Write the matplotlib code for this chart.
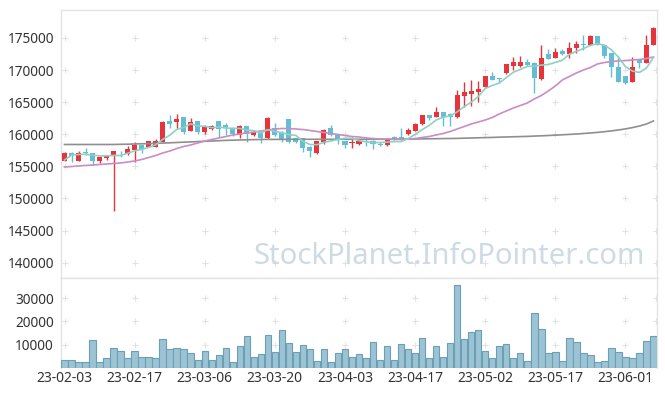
import numpy as np
import pandas as pd
import matplotlib
matplotlib.use('Agg')
import matplotlib.pyplot as plt

# trading days (KRX) 2023-02-03 .. 2023-06-08
holidays = ['2023-03-01', '2023-05-01', '2023-05-05', '2023-05-29', '2023-06-06']
dates = pd.bdate_range('2023-02-03', '2023-06-08')
dates = dates[~dates.isin(pd.to_datetime(holidays))]

open_ = [155880, 157130, 155880, 157280, 157130, 155830, 156350, 156660, 157130, 156930,
         157550, 158330, 158070, 158070, 158840, 162120, 161960, 162650, 160560, 162070,
         160310, 160800, 162070, 161450, 161020, 159890, 161290, 159890, 160400, 159370,
         160930, 160400, 162380, 159370, 159370, 158060, 157130, 158740, 160930, 159890,
         158950, 158700, 158450, 159200, 159000, 158500, 158330, 159520, 159620, 160040,
         160560, 161550, 163000, 162740, 163420, 163160, 162740, 166000, 166280, 166640,
         167410, 169080, 168720, 169500, 170640, 170640, 171260, 171150, 168570, 172510,
         171930, 173020, 172510, 173400, 174060, 173910, 175310, 173910, 172620, 170440,
         169080, 168190, 171680, 171150, 173910]
high = [157200, 157280, 157400, 157810, 157150, 156550, 156650, 157450, 157450, 158170,
        158750, 158380, 159000, 159220, 162000, 163000, 163160, 162700, 162490, 162100,
        161450, 161500, 162100, 161710, 161100, 161400, 161350, 160450, 160450, 162690,
        161800, 160450, 162450, 159450, 159400, 158100, 159000, 160800, 161450, 159950,
        159000, 159550, 158950, 159550, 159050, 158800, 159300, 159800, 160930, 160930,
        161700, 163050, 163050, 164200, 163500, 163250, 166900, 168200, 168460, 168350,
        169150, 169750, 168800, 171000, 172000, 172200, 171700, 171200, 173910, 173240,
        173400, 173300, 174420, 174600, 175470, 175470, 175350, 173950, 172700, 172200,
        169150, 172000, 171750, 175470, 176750]
low = [155800, 155730, 155880, 156770, 155210, 155570, 155990, 148050, 156500, 156800,
       155640, 157130, 158000, 158000, 158800, 161020, 160930, 159990, 160500, 159990,
       160100, 160700, 159600, 159890, 159800, 159370, 158840, 159800, 158690, 159220,
       159800, 158800, 158600, 158700, 157290, 156410, 157000, 158500, 159800, 158500,
       157810, 157810, 158400, 158200, 157650, 158100, 158200, 159150, 159050, 159950,
       160500, 161500, 162200, 162700, 161290, 161290, 162600, 164300, 164400, 165070,
       167350, 168400, 168030, 169400, 169950, 170550, 170700, 166480, 168500, 171700,
       171850, 172300, 171840, 172700, 173130, 173850, 173850, 171840, 168970, 168100,
       167850, 168100, 170400, 171100, 173850]
close = [157130, 156620, 157030, 157130, 155880, 156510, 156620, 157400, 157030, 157710,
         158330, 157760, 158950, 159000, 161960, 161550, 162330, 160400, 161870, 160310,
         161290, 161290, 160870, 161130, 160000, 161290, 160040, 160400, 159370, 162490,
         159890, 159110, 158840, 158840, 157810, 157440, 158950, 160660, 159890, 159110,
         158330, 158800, 158900, 159050, 158440, 158330, 159260, 159220, 159110, 160660,
         161600, 163000, 162490, 163420, 162740, 162650, 166120, 166640, 166790, 167050,
         169080, 168460, 168570, 170950, 171260, 171260, 170800, 168720, 171840, 171780,
         172820, 172510, 173400, 174060, 173950, 175310, 173910, 172200, 170440, 168190,
         167940, 170440, 171150, 173910, 176510]
volume = [3300, 3300, 2500, 2500, 11900, 2500, 4200, 8400, 7200, 4200,
          7500, 4900, 4600, 4200, 12300, 8100, 8600, 8100, 6400, 3300,
          7200, 3300, 5400, 8400, 2500, 9400, 13600, 4600, 5900, 14100,
          6800, 16400, 10700, 6800, 10100, 8100, 2900, 8100, 2500, 6400,
          8100, 4900, 5900, 4200, 11200, 3600, 9300, 3600, 10300, 8100,
          6400, 12800, 4500, 9300, 4900, 10700, 35500, 12300, 15400, 16200,
          7500, 4100, 9300, 10300, 4100, 6400, 2900, 23600, 16700, 6400,
          6800, 3200, 12800, 11200, 6400, 5400, 2500, 3200, 8800, 6800,
          4900, 4100, 6400, 11400, 13600]

# first MA5 points need earlier closes
ma5_first = [155990, 156770, 156850, 156880]
ma20 = [154900, 154980, 155060, 155140, 155210, 155290, 155370, 155450, 155530, 155680,
        155840, 156070, 156380, 156690, 157080, 157390, 157780, 158100, 158330, 158640,
        158950, 159190, 159420, 159650, 159890, 160040, 160200, 160350, 160510, 160670,
        160820, 160900, 160900, 160820, 160740, 160590, 160430, 160280, 160120, 159970,
        159810, 159650, 159580, 159420, 159340, 159260, 159260, 159220, 159220, 159260,
        159340, 159500, 159650, 159890, 160120, 160430, 160820, 161210, 161600, 161910,
        162220, 162610, 163160, 163630, 164090, 164480, 164870, 165500, 166040, 166740,
        167520, 168460, 169000, 169550, 170010, 170400, 170950, 171180, 171340, 171420,
        171490, 171570, 171650, 171810, 172040]
ma_long = [158410, 158410, 158410, 158410, 158410, 158410, 158410, 158410, 158440, 158450,
           158490, 158520, 158550, 158580, 158630, 158670, 158720, 158770, 158810, 158860,
           158910, 158950, 159000, 159050, 159080, 159110, 159140, 159170, 159190, 159200,
           159200, 159200, 159220, 159220, 159220, 159220, 159220, 159220, 159220, 159220,
           159220, 159220, 159220, 159220, 159220, 159220, 159230, 159230, 159230, 159250,
           159260, 159280, 159300, 159310, 159330, 159340, 159360, 159390, 159420, 159450,
           159480, 159510, 159550, 159580, 159610, 159640, 159670, 159720, 159760, 159810,
           159860, 159920, 159980, 160040, 160120, 160200, 160290, 160400, 160530, 160670,
           160840, 161040, 161290, 161600, 162070]

df = pd.DataFrame({'open': open_, 'high': high, 'low': low, 'close': close, 'volume': volume}, index=dates)
ma5 = df['close'].rolling(5).mean().values
ma5[:4] = ma5_first

up_color = '#e8333b'
down_color = '#62bdd5'
grid_color = '#e2e2e2'
spine_color = '#e3e3e3'
text_color = '#333333'

plt.rcParams['font.family'] = ['Noto Sans', 'DejaVu Sans']

fig = plt.figure(figsize=(6.65, 3.96), dpi=100)
W, H = 665, 396
ax = fig.add_axes([61 / W, 1 - 278 / H, (657 - 61) / W, (278 - 10) / H])
axv = fig.add_axes([61 / W, 1 - 368 / H, (657 - 61) / W, (368 - 278) / H], sharex=ax)

x = np.arange(len(df))
o, h, l, c = df['open'].values, df['high'].values, df['low'].values, df['close'].values
colors = np.where(c >= o, up_color, down_color)

# candles
ax.vlines(x, l, h, colors=colors, linewidth=1.0, zorder=3)
body = np.maximum(np.abs(c - o), 80)
ax.bar(x, body, bottom=np.minimum(o, c), width=0.72, color=colors, linewidth=0, zorder=4)

# moving averages
ax.plot(x, ma_long, color='#8f8f8f', linewidth=1.2, zorder=5)
ax.plot(x, ma20, color='#c98cc4', linewidth=1.2, zorder=5)
ax.plot(x, ma5, color='#8fd0c4', linewidth=1.2, zorder=5)

# volume
axv.bar(x, df['volume'].values, width=0.92, color='#9cc3d3', edgecolor='#6b9fb5', linewidth=0.8, zorder=3)

ax.set_xlim(-0.5, len(df) - 0.5)
ax.set_ylim(137610, 179360)
axv.set_ylim(0, 38700)

yt = np.arange(140000, 175001, 5000)
ax.set_yticks(yt)
ax.set_yticklabels([str(v) for v in yt])
vt = [10000, 20000, 30000]
axv.set_yticks(vt)
axv.set_yticklabels([str(v) for v in vt])

xt = np.arange(0, len(df), 10)
axv.set_xticks(xt)
axv.set_xticklabels([d.strftime('%y-%m-%d') for d in dates[xt]])
ax.tick_params(axis='x', which='both', bottom=False, labelbottom=False)

for a in (ax, axv):
    a.tick_params(axis='y', length=0, pad=5, labelsize=9.8, colors=text_color)
    for s in a.spines.values():
        s.set_color(spine_color)
        s.set_linewidth(1)
axv.tick_params(axis='x', length=0, pad=2, labelsize=10, colors=text_color)
axv.spines['bottom'].set_visible(False)

# grid drawn as small crosses at tick intersections
gx = list(xt) + [len(df) - 0.6]
for a, ys in ((ax, yt), (axv, vt)):
    gxx, gyy = np.meshgrid(gx, ys)
    a.scatter(gxx.ravel(), gyy.ravel(), marker='+', s=14, color=grid_color, linewidths=0.8, zorder=1)

fig.text(645 / W, 1 - 256 / H, 'StockPlanet.InfoPointer.com', ha='right', va='center',
         fontsize=21, color='#cddbe4', zorder=0)

fig.savefig('out.png', dpi=100)
